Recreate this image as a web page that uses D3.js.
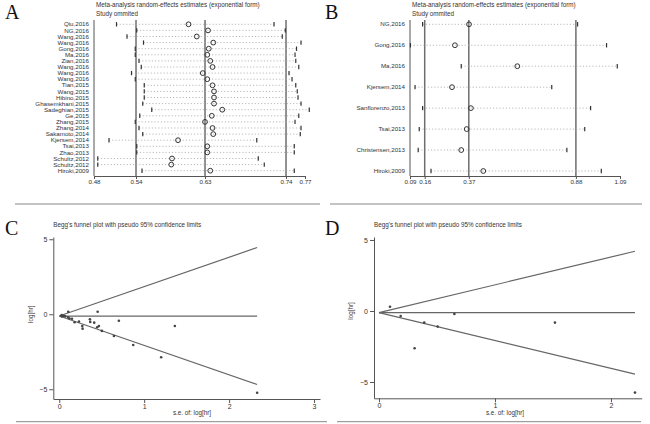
<!DOCTYPE html>
<html><head><meta charset="utf-8">
<script src="https://cdn.jsdelivr.net/npm/d3@7"></script>
<style>body{margin:0;background:#fff} svg text{font-family:"Liberation Sans",Arial,sans-serif;fill:#333}</style>
</head><body><svg id="c" width="650" height="424"></svg>
<script>
// ---------- Panel A data (sensitivity analysis, HR) ----------
const studiesA = ["Qiu,2016","NG,2016","Wang,2016","Wang,2016","Gong,2016","Ma,2016","Zian,2016","Wang,2016","Wang,2016","Wang,2016","Tian,2015","Wang,2015","Hibino,2015","Ghasemkhani,2015","Sadeghian,2015","Ge,2015","Zhang,2015","Zhang,2014","Sakamoto,2014","Kjersem,2014","Tsai,2013","Zhao,2013","Schultz,2012","Schultz,2012","Hiroki,2009"];
const lowerA = [0.514,0.541,0.528,0.550,0.539,0.539,0.544,0.547,0.534,0.539,0.551,0.551,0.551,0.549,0.561,0.545,0.539,0.544,0.549,0.504,0.541,0.541,0.489,0.489,0.548];
const estA   = [0.610,0.636,0.621,0.643,0.637,0.635,0.639,0.642,0.629,0.635,0.642,0.644,0.644,0.644,0.655,0.641,0.632,0.642,0.643,0.596,0.635,0.635,0.588,0.587,0.639];
const upperA = [0.724,0.739,0.735,0.760,0.754,0.752,0.753,0.757,0.744,0.748,0.753,0.755,0.756,0.760,0.771,0.757,0.752,0.760,0.759,0.701,0.751,0.751,0.703,0.711,0.751];
const refA   = [0.54,0.632,0.74];
const ticksA = [0.484,0.54,0.632,0.74,0.7653];

// ---------- Panel B data ----------
const studiesB = ["NG,2016","Gong,2016","Ma,2016","Kjersem,2014","Sanflorenzo,2013","Tsai,2013","Christensen,2013","Hiroki,2009"];
const lowerB = [0.150,0.092,0.334,0.114,0.150,0.134,0.129,0.190];
const estB   = [0.371,0.304,0.601,0.290,0.380,0.360,0.334,0.439];
const upperB = [0.888,1.026,1.077,0.765,0.950,0.922,0.837,1.001];
const refB   = [0.16,0.37,0.88];
const ticksB = [0.09,0.16,0.37,0.88,1.09];

// ---------- Panel C data (Begg's funnel) ----------
const seC  = [0.028,0.030,0.055,0.070,0.106,0.106,0.120,0.150,0.181,0.232,0.271,0.275,0.361,0.365,0.412,0.447,0.452,0.467,0.502,0.644,0.702,0.871,1.200,1.361,2.330];
const lhrC = [-0.05,-0.15,-0.11,-0.14,0.17,-0.20,-0.28,-0.30,-0.53,-0.49,-0.78,-0.96,-0.33,-0.51,-0.56,-0.87,0.17,-0.78,-1.11,-1.45,-0.43,-2.05,-2.87,-0.78,-5.23];
const pooledC = -0.12, maxSeC = 2.33;
const yTicksC = [-5,0,5], xTicksC = [0,1,2,3];

// ---------- Panel D data ----------
const seD  = [0.095,0.187,0.307,0.390,0.506,0.650,1.517,2.207];
const lhrD = [0.30,-0.35,-2.63,-0.82,-1.10,-0.21,-0.82,-5.75];
const pooledD = -0.12, maxSeD = 2.207;
const yTicksD = [-5,0,5], xTicksD = [0,1,2];

const svg = d3.select("#c");
const AX = "#555", REF = "#6e6e6e";

function panelLetter(t, x, y){
  svg.append("text").attr("x",x).attr("y",y).text(t)
    .style("font-family","'Liberation Serif','Times New Roman',serif").style("font-size","20px").style("fill","#111");
}
function sep(x1,x2,y){
  svg.append("line").attr("x1",x1).attr("x2",x2).attr("y1",y).attr("y2",y).attr("stroke","#888").attr("stroke-width",1);
}

function forest(o){
  const g = svg.append("g");
  const x = d3.scaleLinear().domain([o.ticks[0], o.ticks[o.ticks.length-1]]).range(o.xr);
  const y = d3.scalePoint().domain(d3.range(o.studies.length)).range(o.yr);
  g.append("text").attr("x",o.xr[0]+2).attr("y",7).style("font-size","6.3px").text("Meta-analysis random-effects estimates (exponential form)");
  g.append("text").attr("x",o.xr[0]+2).attr("y",15.5).style("font-size","6.3px").text("Study ommited");
  g.selectAll(".ref").data(o.refs).enter().append("line")
    .attr("x1",d=>x(d)).attr("x2",d=>x(d)).attr("y1",o.top).attr("y2",o.bottom)
    .attr("stroke",REF).attr("stroke-width",1.5);
  g.append("line").attr("x1",o.xr[0]).attr("x2",o.xr[0]).attr("y1",o.top).attr("y2",o.bottom).attr("stroke",AX).attr("stroke-width",1);
  const ax = d3.axisBottom(x).tickValues(o.ticks).tickFormat(d3.format(".2f")).tickSize(3).tickSizeOuter(0);
  const ag = g.append("g").attr("transform",`translate(0,${o.bottom})`).call(ax);
  ag.select(".domain").attr("stroke",AX);
  ag.selectAll(".tick line").attr("stroke",AX);
  ag.selectAll(".tick text").style("font-size","6.2px").attr("y",4).attr("fill","#333");
  const rows = g.selectAll(".row").data(o.studies.map((s,i)=>i)).enter().append("g");
  rows.append("line").attr("x1",i=>x(o.lower[i])).attr("x2",i=>x(o.upper[i]))
    .attr("y1",i=>y(i)).attr("y2",i=>y(i)).attr("stroke","#a8a8a8").attr("stroke-width",0.8).attr("stroke-dasharray","1.2,2");
  [o.lower,o.upper].forEach(arr=>{
    rows.append("line").attr("x1",i=>x(arr[i])).attr("x2",i=>x(arr[i]))
      .attr("y1",i=>y(i)-2.2).attr("y2",i=>y(i)+2.2).attr("stroke","#333").attr("stroke-width",1.2);
  });
  rows.append("circle").attr("cx",i=>x(o.est[i])).attr("cy",i=>y(i)).attr("r",2.4)
    .attr("fill","none").attr("stroke","#333").attr("stroke-width",1);
  rows.append("text").attr("x",o.xr[0]-5).attr("y",i=>y(i)).attr("dy","0.35em").attr("text-anchor","end")
    .style("font-size",o.fs).text(i=>o.studies[i]);
}

function funnel(o){
  const g = svg.append("g");
  const x = d3.scaleLinear().domain(o.xd).range(o.xr);
  const y = d3.scaleLinear().domain(o.yd).range(o.yr);
  g.append("text").attr("x",o.xr[0]).attr("y",o.titleY).style("font-size","6.3px").text("Begg's funnel plot with pseudo 95% confidence limits");
  const ya = d3.axisLeft(y).tickValues(o.yTicks).tickSize(4).tickSizeOuter(0).tickFormat(d3.format("d"));
  const yg = g.append("g").attr("transform",`translate(${o.xr[0]},0)`).call(ya);
  const xa = d3.axisBottom(x).tickValues(o.xTicks).tickSize(4).tickSizeOuter(0).tickFormat(d3.format("d"));
  const xg = g.append("g").attr("transform",`translate(0,${o.yr[0]})`).call(xa);
  [yg,xg].forEach(a=>{a.select(".domain").attr("stroke",AX);a.selectAll(".tick line").attr("stroke",AX);
    a.selectAll(".tick text").style("font-size","7px").attr("fill","#333");});
  yg.selectAll(".tick text").attr("x",-6);
  xg.selectAll(".tick text").attr("y",5);
  g.append("text").attr("transform",`translate(${o.ylabX},${y(0)}) rotate(-90)`).attr("text-anchor","middle")
    .style("font-size","6.3px").text("log[hr]");
  g.append("text").attr("x",o.xlab[0]).attr("y",o.xlab[1]).attr("text-anchor","middle")
    .style("font-size","6.3px").text("s.e. of: log[hr]");
  const lines = [[[0,o.pooled],[o.maxSe,o.pooled]],[[0,o.pooled],[o.maxSe,o.pooled+1.96*o.maxSe]],[[0,o.pooled],[o.maxSe,o.pooled-1.96*o.maxSe]]];
  const lg = d3.line().x(d=>x(d[0])).y(d=>y(d[1]));
  g.selectAll(".fl").data(lines).enter().append("path").attr("d",lg).attr("fill","none").attr("stroke","#666").attr("stroke-width",1.2);
  g.selectAll(".pt").data(o.se.map((s,i)=>i)).enter().append("circle")
    .attr("cx",i=>x(o.se[i])).attr("cy",i=>y(o.lhr[i])).attr("r",1.3).attr("fill","#444");
}

panelLetter("A",5,18.5);
panelLetter("B",325,18.5);
panelLetter("C",5,235);
panelLetter("D",325,235);

forest({studies:studiesA,lower:lowerA,est:estA,upper:upperA,refs:refA,ticks:ticksA,xr:[94,305],yr:[24.3,170.7],top:20,bottom:176,fs:"6.2px"});
forest({studies:studiesB,lower:lowerB,est:estB,upper:upperB,refs:refB,ticks:ticksB,xr:[410,620],yr:[24.3,171],top:20,bottom:176,fs:"6.2px"});

funnel({se:seC,lhr:lhrC,pooled:pooledC,maxSe:maxSeC,yTicks:yTicksC,xTicks:xTicksC,
  xd:[-0.07,3.07],xr:[53.3,320],yd:[-5.65,5.15],yr:[399,237],titleY:227,ylabX:33,xlab:[192,415]});
funnel({se:seD,lhr:lhrD,pooled:pooledD,maxSe:maxSeD,yTicks:yTicksD,xTicks:xTicksD,
  xd:[-0.043,2.265],xr:[374,641.7],yd:[-6.15,5.21],yr:[398.3,237],titleY:227,ylabX:353,xlab:[505,415]});

sep(15,320,204); sep(330,642,204);
sep(16,327,421.7); sep(337,641,421.7);
</script></body></html>
